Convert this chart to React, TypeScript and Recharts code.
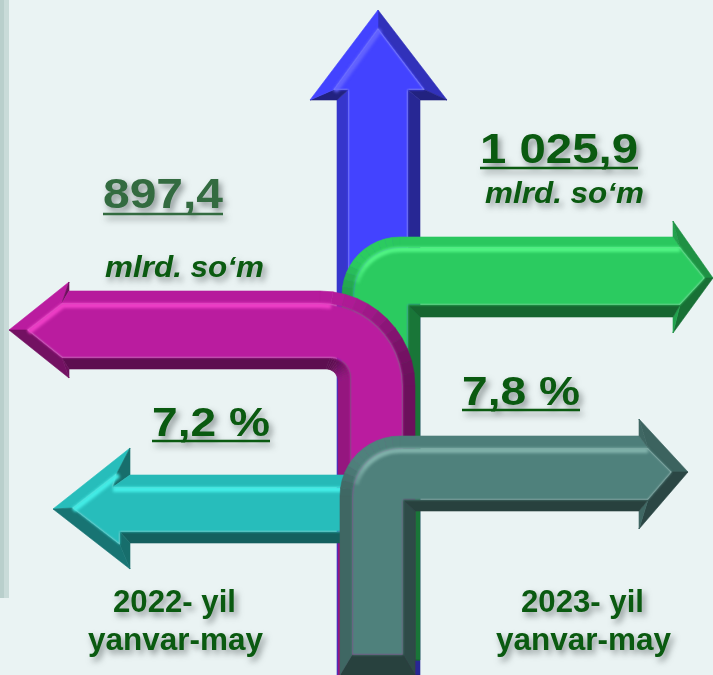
import React from 'react';
import { ScatterChart, Scatter, XAxis, YAxis, ReferenceArea } from 'recharts';

type P = { x: number; y: number };
const pts = (a: number[][]): P[] => a.map(([x, y]) => ({ x, y }));

const blueOuter = pts([[378,10],[447,100],[420,100],[420,675],[337,675],[337,100],[310,100]]);
const blueInner = pts([[378,28],[425,90],[408,90],[408,675],[348,675],[348,90],[333,90]]);
const greenOuter = pts([[342,237],[673,237],[673,221],[713,278],[673,333],[673,317],[420,317],[420,660],[342,660]]);
const greenInner = pts([[353,247],[680,247],[680,247],[705,278],[680,305],[680,305],[408,305],[408,660],[353,660]]);
const magentaOuter = pts([[9,330],[69,282],[69,291],[415,291],[415,675],[338,675],[338,369],[69,369],[69,378]]);
const magentaInner = pts([[27,330],[62,303],[62,303],[403,303],[403,675],[350,675],[350,358],[62,358],[62,358]]);
const cyanOuter = pts([[53,509],[130,448],[130,475],[345,475],[345,543],[130,543],[130,569]]);
const cyanInner = pts([[72,508],[117,473],[113,487],[345,487],[345,532],[120,532],[120,545]]);
const slateOuter = pts([[340,436],[639,436],[639,419],[688,472],[639,529],[639,511],[415,511],[415,675],[340,675]]);
const slateInner = pts([[352,448],[648,448],[648,448],[672,472],[648,500],[648,500],[403,500],[403,655],[352,655]]);

const labelPoints = [
  { x: 103, y: 208, text: '897,4' },
  { x: 105, y: 277, text: 'mlrd. so‘m' },
  { x: 480, y: 163, text: '1 025,9' },
  { x: 485, y: 203, text: 'mlrd. so‘m' },
  { x: 152, y: 436, text: '7,2 %' },
  { x: 462, y: 405, text: '7,8 %' },
  { x: 113, y: 612, text: '2022- yil' },
  { x: 88, y: 650, text: 'yanvar-may' },
  { x: 521, y: 612, text: '2023- yil' },
  { x: 496, y: 650, text: 'yanvar-may' },
];

const DARK_GREEN = '#0A5A10';
const LABEL_STYLE: Record<string, any> = {
  '897,4': { size: 43, w: 120, color: '#336B40', under: 6 },
  '1 025,9': { size: 42, w: 158, color: DARK_GREEN, under: 5 },
  'mlrd. so‘m': { size: 30, w: 159, color: DARK_GREEN, italic: true },
  '7,2 %': { size: 41, w: 118, color: DARK_GREEN, under: 5 },
  '7,8 %': { size: 41, w: 118, color: DARK_GREEN, under: 5 },
  '2022- yil': { size: 32, w: 123, color: DARK_GREEN },
  '2023- yil': { size: 32, w: 123, color: DARK_GREEN },
  'yanvar-may': { size: 32, w: 175, color: DARK_GREEN },
};

const N = 12;
const shade = (hex: string, f: number) => {
  const n = parseInt(hex.slice(1), 16);
  const c = [(n >> 16) & 255, (n >> 8) & 255, n & 255].map((v) => Math.round(v * f));
  return `rgb(${c[0]},${c[1]},${c[2]})`;
};

function flatten(p: P[], r: number[], corner: boolean[]): P[] {
  const out: P[] = [];
  const k = 0.5523;
  p.forEach((v, i) => {
    if (!corner[i]) {
      out.push(v);
      return;
    }
    const a = p[(i - 1 + p.length) % p.length];
    const b = p[(i + 1) % p.length];
    const la = Math.hypot(a.x - v.x, a.y - v.y) || 1;
    const lb = Math.hypot(b.x - v.x, b.y - v.y) || 1;
    const rad = r[i];
    const p0 = { x: v.x + ((a.x - v.x) / la) * rad, y: v.y + ((a.y - v.y) / la) * rad };
    const p3 = { x: v.x + ((b.x - v.x) / lb) * rad, y: v.y + ((b.y - v.y) / lb) * rad };
    const c1 = { x: p0.x + (v.x - p0.x) * k, y: p0.y + (v.y - p0.y) * k };
    const c2 = { x: p3.x + (v.x - p3.x) * k, y: p3.y + (v.y - p3.y) * k };
    for (let s = 0; s <= N; s++) {
      const t = s / N;
      const u = 1 - t;
      out.push({
        x: u * u * u * p0.x + 3 * u * u * t * c1.x + 3 * u * t * t * c2.x + t * t * t * p3.x,
        y: u * u * u * p0.y + 3 * u * u * t * c1.y + 3 * u * t * t * c2.y + t * t * t * p3.y,
      });
    }
  });
  return out;
}

const poly = (p: P[]) => p.map((q) => `${q.x},${q.y}`).join(' ');

const makeArrow = (face: string, glow: string, outerR: number[], innerR: number[]) => (props: any) => {
  const all: P[] = props.points;
  const half = all.length / 2;
  const corner = outerR.map((v, i) => v > 0 || innerR[i] > 0);
  const o = flatten(all.slice(0, half), outerR, corner);
  const n = flatten(all.slice(half), innerR, corner);
  const quads: React.ReactNode[] = [];
  const glows: React.ReactNode[] = [];
  for (let i = 0; i < o.length; i++) {
    const j = (i + 1) % o.length;
    let dx = o[j].x - o[i].x;
    let dy = o[j].y - o[i].y;
    if (Math.hypot(dx, dy) < 0.01) {
      dx = n[j].x - n[i].x;
      dy = n[j].y - n[i].y;
    }
    const len = Math.hypot(dx, dy) || 1;
    const nx = dy / len;
    const ny = -dx / len;
    let f = nx * nx * (nx < 0 ? 0.8 : 0.58) + ny * ny * (ny < 0 ? 0.98 : 0.5);
    if (nx < 0 && ny < 0) f = Math.min(1, f + 4 * nx * nx * ny * ny * 0.15);
    const col = shade(face, f);
    quads.push(
      <polygon key={i} points={poly([o[i], o[j], n[j], n[i]])} fill={col} stroke={col} strokeWidth={0.6} />,
    );
    const strength = ny < -0.3 && nx < 0.15 ? Math.min(1, -ny * 1.4) : 0;
    if (strength > 0 && Math.hypot(n[j].x - n[i].x, n[j].y - n[i].y) > 0.01) {
      glows.push(
        <line
          key={i}
          x1={n[i].x - nx * 2.5}
          y1={n[i].y - ny * 2.5}
          x2={n[j].x - nx * 2.5}
          y2={n[j].y - ny * 2.5}
          stroke={glow}
          strokeOpacity={strength}
          strokeWidth={5}
        />,
      );
    }
  }
  return (
    <g>
      <g style={{ filter: 'blur(0.4px)' }}>{quads}</g>
      <polygon points={poly(n)} fill={face} style={{ filter: 'blur(1.2px)' }} />
      <g style={{ filter: 'blur(1.4px)' }}>{glows}</g>
    </g>
  );
};

const renderLabel = (props: any) => {
  const { cx, cy, payload } = props;
  const s = LABEL_STYLE[payload.text];
  return (
    <g style={{ filter: 'drop-shadow(3px 4px 3px rgba(40,50,50,0.5))' }}>
      <text
        x={cx}
        y={cy}
        fontFamily="'Liberation Sans', Arial, sans-serif"
        fontWeight="bold"
        fontStyle={s.italic ? 'italic' : 'normal'}
        fontSize={s.size}
        fill={s.color}
        textLength={s.w}
        lengthAdjust="spacingAndGlyphs"
      >
        {payload.text}
      </text>
      {s.under ? (
        <line x1={cx} x2={cx + s.w} y1={cy + s.under} y2={cy + s.under} stroke={s.color} strokeWidth={2.6} />
      ) : null}
    </g>
  );
};

const noDot = () => <g />;

const arrows = [
  { name: 'blue', outer: blueOuter, inner: blueInner, face: '#4343FF', glow: '#6A6AFF', oR: [0,0,0,0,0,0,0], iR: [0,0,0,0,0,0,0] },
  { name: 'green', outer: greenOuter, inner: greenInner, face: '#2BCB60', glow: '#52F585', oR: [58,0,0,0,0,0,0,0,0], iR: [47,0,0,0,0,0,0,0,0] },
  { name: 'magenta', outer: magentaOuter, inner: magentaInner, face: '#BA1C9F', glow: '#F040C8', oR: [0,0,0,95,0,0,12,0,0], iR: [0,0,0,83,0,0,20,0,0] },
  { name: 'cyan', outer: cyanOuter, inner: cyanInner, face: '#27BDBB', glow: '#45EFE8', oR: [0,0,0,0,0,0,0], iR: [0,0,0,0,0,0,0] },
  { name: 'slate', outer: slateOuter, inner: slateInner, face: '#4F817C', glow: '#82B3AC', oR: [60,0,0,0,0,0,0,0,0], iR: [48,0,0,0,0,0,0,0,0] },
];

export default function App() {
  return (
    <div style={{ position: 'absolute', left: 0, top: 0, width: 713, height: 675, background: '#EAF3F3', overflow: 'hidden' }}>
      <ScatterChart width={713} height={675} margin={{ top: 0, right: 0, bottom: 0, left: 0 }}>
        <XAxis type="number" dataKey="x" domain={[0, 713]} hide allowDataOverflow />
        <YAxis type="number" dataKey="y" domain={[0, 675]} reversed hide allowDataOverflow />
        <ReferenceArea x1={0} x2={4} y1={0} y2={598} fill="#B9CFCC" fillOpacity={1} stroke="none" />
        <ReferenceArea x1={4} x2={9} y1={0} y2={598} fill="#C9DBD9" fillOpacity={1} stroke="none" />
        {arrows.map((a) => (
          <Scatter
            key={a.name}
            name={a.name}
            data={[...a.outer, ...a.inner]}
            isAnimationActive={false}
            shape={noDot}
            line={makeArrow(a.face, a.glow, a.oR, a.iR)}
          />
        ))}
        <Scatter name="labels" data={labelPoints} isAnimationActive={false} shape={renderLabel} />
      </ScatterChart>
    </div>
  );
}
